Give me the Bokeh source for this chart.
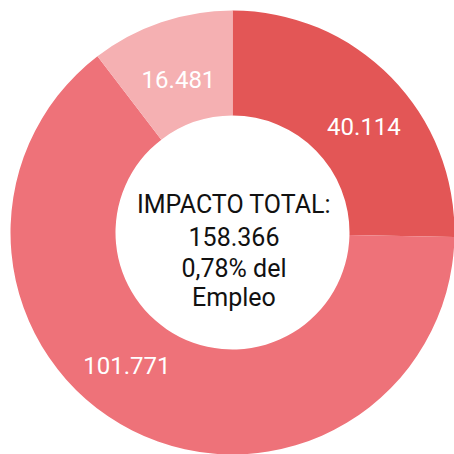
import numpy as np
from bokeh.plotting import figure
from bokeh.models import ColumnDataSource, Range1d
from bokeh.core.properties import value
from bokeh.embed import file_html
from bokeh.resources import INLINE

# ---- data ----
segments = ["Segmento 1", "Segmento 2", "Segmento 3"]
values = [40114, 101771, 16481]
colors = ["#E35656", "#EE7279", "#F5B0B2"]
center_lines = ["IMPACTO TOTAL:", "158.366", "0,78% del", "Empleo"]

# ---- styling / placement (not data) ----
label_pos_in_slice = [0.56, 0.55, 0.48]   # where along each slice the label sits
label_radius = [169, 170, 162]
center_x_shift = [1.5, 1.5, 1.5, 1.5]
center_baselines = [28, -4, -36, -65]
INNER_R, OUTER_R = 117, 222

vals = np.array(values, dtype=float)
frac = vals / vals.sum()
cum_after = np.cumsum(frac)
cum_before = cum_after - frac
start = np.pi / 2 - 2 * np.pi * cum_before
end = np.pi / 2 - 2 * np.pi * cum_after

theta = 2 * np.pi * (cum_before + np.array(label_pos_in_slice) * frac)
lx = np.array(label_radius) * np.sin(theta)
ly = np.array(label_radius) * np.cos(theta)
labels = [f"{v:,}".replace(",", ".") for v in values]

src = ColumnDataSource(dict(seg=segments, start=start, end=end, color=colors,
                            lx=lx, ly=ly, label=labels))

p = figure(width=454, height=454, output_backend="svg", toolbar_location=None,
           x_range=Range1d(-232, 222), y_range=Range1d(-222, 232),
           min_border=0, outline_line_color=None, background_fill_color="white",
           border_fill_color="white")
p.axis.visible = False
p.grid.visible = False

p.annular_wedge(x=0, y=0, inner_radius=INNER_R, outer_radius=OUTER_R,
                start_angle="start", end_angle="end", direction="clock",
                fill_color="color", line_color=None, source=src)

p.text(x="lx", y="ly", text="label", source=src, text_color="white",
       text_font=value("Roboto"), text_font_size="24px",
       text_align="center", text_baseline="middle")

csrc = ColumnDataSource(dict(x=center_x_shift, y=center_baselines, t=center_lines))
p.text(x="x", y="y", text="t", source=csrc, text_color="#111111",
       text_font=value("Roboto"), text_font_size="25px",
       text_align="center", text_baseline="alphabetic")

open("out.html", "w").write(file_html(p, INLINE))
